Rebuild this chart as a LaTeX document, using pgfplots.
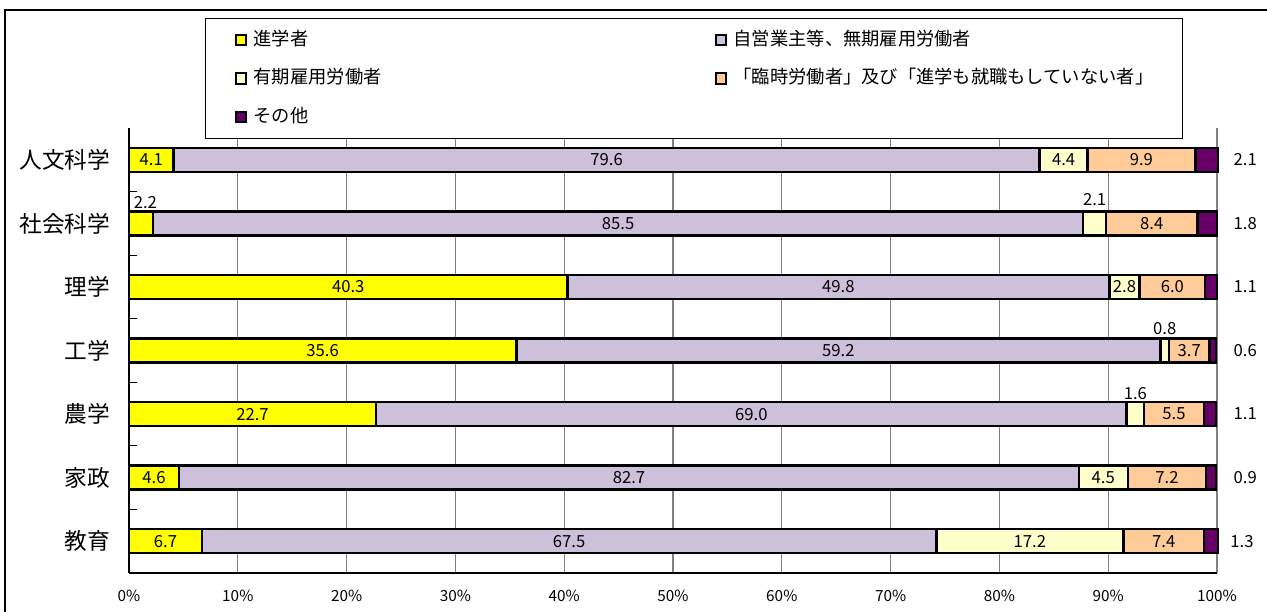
\documentclass[border=0pt]{standalone}
\usepackage{fontspec}
\setmainfont{Noto Sans CJK JP}
\usepackage{pgfplots}
\usepackage{pgfplotstable}
\pgfplotsset{compat=1.18}
\definecolor{cA}{HTML}{FFFF00}
\definecolor{cB}{HTML}{CCC0DA}
\definecolor{cC}{HTML}{FFFFCC}
\definecolor{cD}{HTML}{FFCC99}
\definecolor{cE}{HTML}{660066}
\tikzset{vlab/.style={font=\fontsize{12.5}{14}\selectfont}}
\pgfplotstableread{
y a b c d e la lb lc ld le
0 4.1 79.6 4.4 9.9 2.1 4.1 79.6 4.4 9.9 {}
1 2.2 85.5 2.1 8.4 1.8 {} 85.5 {} 8.4 {}
2 40.3 49.8 2.8 6.0 1.1 40.3 49.8 2.8 6.0 {}
3 35.6 59.2 0.8 3.7 0.6 35.6 59.2 {} 3.7 {}
4 22.7 69.0 1.6 5.5 1.1 22.7 69.0 {} 5.5 {}
5 4.6 82.7 4.5 7.2 0.9 4.6 82.7 4.5 7.2 {}
6 6.7 67.5 17.2 7.4 1.3 6.7 67.5 17.2 7.4 {}
}\datatable
\begin{document}
\begin{tikzpicture}
\path[use as bounding box] (0,0) rectangle (950.25pt,458.25pt);
\draw[line width=1.1pt] (3.75pt,-20pt) -- (3.75pt,450.75pt) -- (980pt,450.75pt);
\begin{axis}[
  at={(96.75pt,28.5pt)}, anchor=south west,
  width=816pt, height=333.75pt, scale only axis,
  xbar stacked, bar width=18pt,
  y dir=reverse,
  xmin=0, xmax=100, ymin=-0.5, ymax=6.5,
  clip=false,
  axis x line*=bottom, axis y line*=left,
  axis line style={-, line width=1.1pt, black},
  xtick={0,10,...,100},
  xticklabels={0\%,10\%,20\%,30\%,40\%,50\%,60\%,70\%,80\%,90\%,100\%},
  xticklabel style={font=\fontsize{11.5}{13}\selectfont, yshift=-9pt},
  ytick={0,...,6},
  yticklabels={人文科学,社会科学,理学,工学,農学,家政,教育},
  yticklabel style={font=\fontsize{17}{19}\selectfont, inner sep=0pt, xshift=-14pt},
  minor ytick={0.5,1.5,...,5.5},
  tick align=inside,
  major tick length=0pt, minor tick length=6pt,
  minor tick style={black, line width=0.8pt},
  xmajorgrids, major grid style={black!50, line width=1pt},
  every axis plot/.append style={draw=black, line width=1.9pt},
  nodes near coords,
  point meta=explicit symbolic,
  every node near coord/.append style={font=\fontsize{12.5}{14}\selectfont, black},
  legend columns=2,
  legend cell align=left,
  legend style={at={(0.0699,1.2472)}, anchor=north west, draw=black, line width=0.8pt, fill=white,
    inner xsep=22pt, inner ysep=9pt, font=\fontsize{13.7}{16}\selectfont,
    nodes={inner sep=0pt, text height=11pt, text depth=3pt}, row sep=15pt,
    /tikz/every odd column/.append style={column sep=5pt},
    /tikz/every even column/.append style={column sep=250pt}},
  legend image code/.code={\draw[#1, line width=1.5pt] (0pt,-3.8pt) rectangle (7.6pt,3.8pt);},
]
\addplot[fill=cA] table[x=a, y=y, meta=la] {\datatable};
\addplot[fill=cB] table[x=b, y=y, meta=lb] {\datatable};
\addplot[fill=cC] table[x=c, y=y, meta=lc] {\datatable};
\addplot[fill=cD] table[x=d, y=y, meta=ld] {\datatable};
\addplot[fill=cE] table[x=e, y=y, meta=le] {\datatable};
\legend{進学者,自営業主等、無期雇用労働者,有期雇用労働者,「臨時労働者」及び「進学も就職もしていない者」,その他}
\node[vlab] at (axis cs:1.5,0.68) {2.2};
\node[vlab] at (axis cs:88.75,0.63) {2.1};
\node[vlab] at (axis cs:95.2,2.65) {0.8};
\node[vlab] at (axis cs:92.5,3.67) {1.6};
\node[vlab] at (axis cs:102.6,0) {2.1};
\node[vlab] at (axis cs:102.6,1) {1.8};
\node[vlab] at (axis cs:102.6,2) {1.1};
\node[vlab] at (axis cs:102.6,3) {0.6};
\node[vlab] at (axis cs:102.6,4) {1.1};
\node[vlab] at (axis cs:102.6,5) {0.9};
\node[vlab] at (axis cs:102.3,6) {1.3};
\end{axis}
\end{tikzpicture}
\end{document}
